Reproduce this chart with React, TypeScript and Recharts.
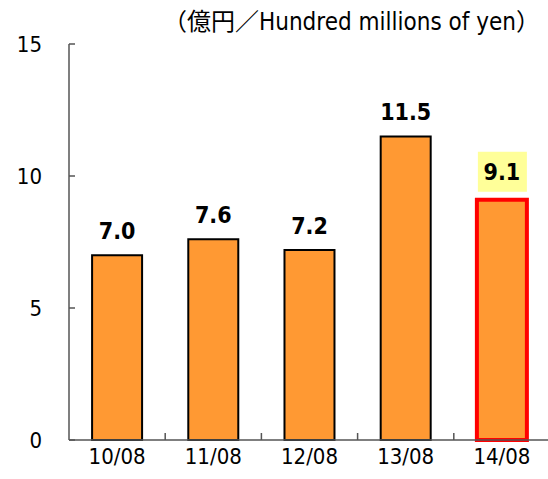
import React from 'react';
import { BarChart, Bar, XAxis, YAxis, LabelList, Cell } from 'recharts';

const months = ['10/08', '11/08', '12/08', '13/08', '14/08'];
const amounts = [7.0, 7.6, 7.2, 11.5, 9.1];
const yTicks = [0, 5, 10, 15];

const data = months.map((m, i) => ({ month: m, value: amounts[i] }));

const numFont = '"DejaVu Sans Condensed", "Liberation Sans", sans-serif';
const axisColor = '#555';

const ValueLabel = (props: any) => {
    const { x, y, width, value, index } = props;
    const cx = x + width / 2;
    const last = index === amounts.length - 1;
    const ty = y - (last ? 28 : 24);
    return (
        <g>
            {last && <rect x={cx - 24} y={ty - 20} width={49} height={40} fill="#ffff99" />}
            <text x={cx} y={ty} textAnchor="middle" dominantBaseline="central"
                fontFamily={numFont} fontWeight="bold" fontSize={23} fill="#000">
                {Number(value).toFixed(1)}
            </text>
        </g>
    );
};

// category label plus a short inward tick at the left edge of each band
const MonthTick = (props: any) => {
    const { x, y, payload, index, width } = props;
    const w = Number(width) || 481;
    const half = w / months.length / 2;
    return (
        <g>
            {index > 0 && <rect x={x - half - 0.75} y={y - 7} width={1.5} height={7} fill={axisColor} />}
            <text x={x} y={y + 24} textAnchor="middle" fontFamily={numFont} fontSize={22} fill="#000">
                {payload.value}
            </text>
        </g>
    );
};

const ValueTick = (props: any) => {
    const { x, y, payload } = props;
    return (
        <g>
            <rect x={x} y={y - 0.75} width={6} height={1.5} fill={axisColor} />
            <text x={x - 27} y={y} textAnchor="end" dominantBaseline="central"
                fontFamily={numFont} fontSize={22} fill="#000">
                {payload.value}
            </text>
        </g>
    );
};

const App: React.FC = () => (
    <div style={{ position: 'absolute', left: 0, top: 0, width: 548, height: 479, background: '#fff', overflow: 'hidden' }}>
        <div style={{
            position: 'absolute', left: 163, top: 7, fontFamily: '"DejaVu Sans Condensed", "Noto Sans CJK JP", sans-serif',
            fontSize: 24, lineHeight: '30px', color: '#000', whiteSpace: 'nowrap',
        }}>
            （億円／Hundred millions of yen）
        </div>
        <BarChart width={550} height={479} data={data} barCategoryGap="24%"
            margin={{ top: 44, right: 0, bottom: 0, left: 0 }}>
            <XAxis dataKey="month" height={39} tickLine={false} tickSize={0} tickMargin={0}
                axisLine={{ stroke: axisColor, strokeWidth: 1.5 }} tick={<MonthTick />} interval={0} />
            <YAxis domain={[0, 15]} ticks={yTicks} width={69} tickLine={false} tickSize={0} tickMargin={0}
                axisLine={{ stroke: axisColor, strokeWidth: 1.5 }} tick={<ValueTick />} interval={0} />
            <Bar dataKey="value" fill="#ff9933" isAnimationActive={false}>
                {data.map((d, i) => (
                    <Cell key={d.month}
                        stroke={i === amounts.length - 1 ? '#ff0000' : '#000'}
                        strokeWidth={i === amounts.length - 1 ? 4 : 2} />
                ))}
                <LabelList dataKey="value" content={ValueLabel} />
            </Bar>
        </BarChart>
    </div>
);

export default App;
